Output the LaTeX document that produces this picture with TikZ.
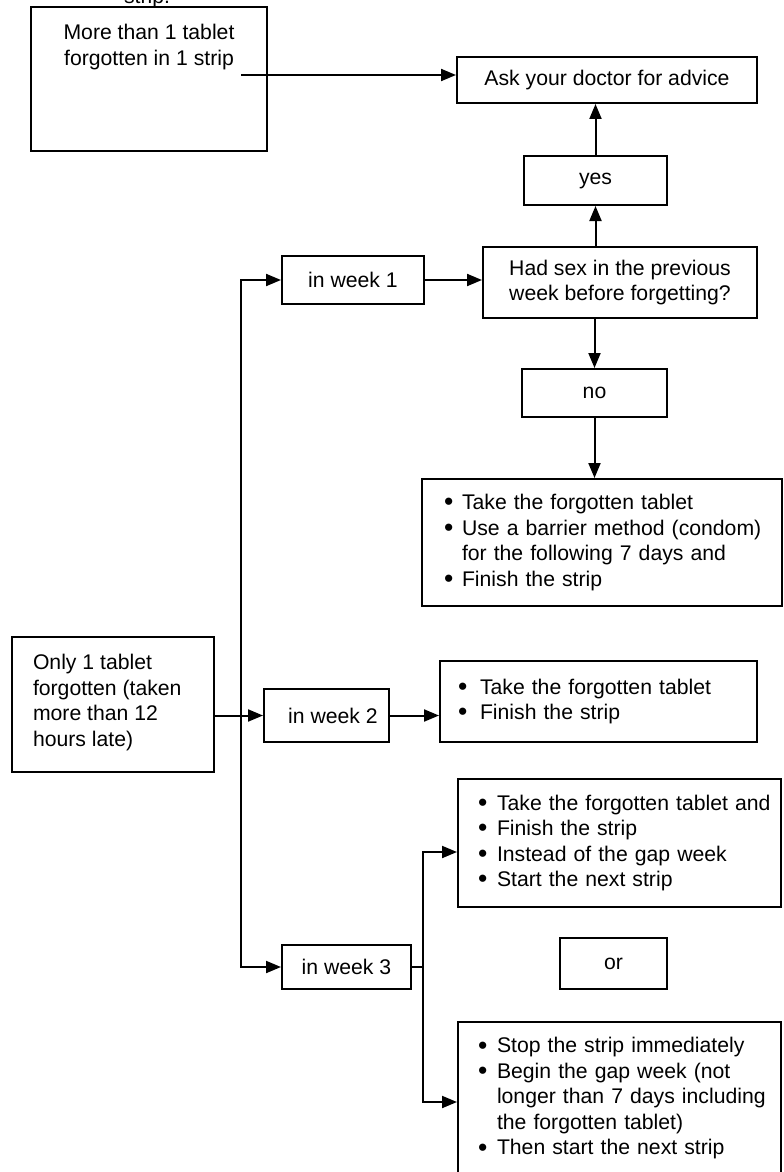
\documentclass[tikz,border=0pt]{standalone}
\usepackage{fontspec}
\setmainfont{Liberation Sans}
\usetikzlibrary{arrows.meta}
\newcommand{\fsz}{\fontsize{10.6pt}{12.75pt}\selectfont}
\newcommand{\bul}[2]{\hspace*{#1}\makebox[#2][l]{\raisebox{-0.1ex}{\scalebox{1.25}{\textbullet}}}}

\begin{document}
\begin{tikzpicture}[x=0.5pt, y=-0.5pt,
    >={Triangle[length=7.5pt,width=6pt]},
    flowbox/.style={draw, line width=1pt, inner sep=0pt, font=\fsz},
    link/.style={line width=1pt}]

    \useasboundingbox (0,0) rectangle (783,1172);
    \clip (0,0) rectangle (783,1172);

    % left over from the previous page
    \node[anchor=base, font=\fsz] (cut) at (147,4) {strip.};

    % top part
    \node[flowbox] (more) at (149,79) {\parbox[c][72pt][t]{118pt}{\centering\rule{0pt}{16.3pt}More than 1 tablet\\forgotten in 1 strip}};
    \node[flowbox, minimum width=150pt, minimum height=23pt] (ask) at (607,80) {Ask your doctor for advice};
    \node[flowbox, minimum width=71.5pt, minimum height=24.5pt] (yes) at (595.5,180.5) {yes};
    \node[flowbox, minimum width=137pt, minimum height=35.5pt, align=center] (sex) at (620,282.5) {Had sex in the previous\\week before forgetting?};
    \node[flowbox, minimum width=71pt, minimum height=24pt] (week1) at (353,280) {in week 1};
    \node[flowbox, minimum width=72.5pt, minimum height=24pt] (no) at (594.5,393) {no};
    \node[flowbox, text width=180pt, align=left, minimum height=63.5pt] (took1) at (602,542.5)
        {\bul{11pt}{9pt}Take the forgotten tablet\\
         \bul{11pt}{9pt}Use a barrier method (condom)\\
         \hspace*{20pt}for the following 7 days and\\
         \bul{11pt}{9pt}Finish the strip};

    % middle part
    \node[flowbox] (only) at (113,704.5) {\parbox[c][67.5pt][t]{101pt}{\leftskip=10.5pt\rightskip=0pt plus 1fil\rule{0pt}{16.3pt}Only 1 tablet\\forgotten (taken\\more than 12\\hours late)}};
    \node[flowbox, minimum width=62.5pt, minimum height=26.5pt] (week2) at (326.5,715.5) {\hspace*{6.5pt}in week 2};
    \node[flowbox, text width=158.5pt, align=left, minimum height=40.5pt] (took2) at (598.5,701.5)
        {\bul{9pt}{11pt}Take the forgotten tablet\\
         \bul{9pt}{11pt}Finish the strip};

    % bottom part
    \node[flowbox, minimum width=64.5pt, minimum height=22pt] (week3) at (346.5,967) {in week 3};
    \node[flowbox, text width=161.5pt, align=left, minimum height=64pt] (took3) at (619.5,843)
        {\bul{10pt}{9.5pt}Take the forgotten tablet and\\
         \bul{10pt}{9.5pt}Finish the strip\\
         \bul{10pt}{9.5pt}Instead of the gap week\\
         \bul{10pt}{9.5pt}Start the next strip};
    \node[flowbox, minimum width=53.5pt, minimum height=25.5pt] (or) at (613.5,963.5) {or};
    \node[flowbox, text width=161.5pt, align=left, minimum height=76.5pt] (stop) at (619.5,1098.5)
        {\bul{10pt}{9.5pt}Stop the strip immediately\\
         \bul{10pt}{9.5pt}Begin the gap week (not\\
         \hspace*{19.5pt}longer than 7 days including\\
         \hspace*{19.5pt}the forgotten tablet)\\
         \bul{10pt}{9.5pt}Then start the next strip};

    % connectors
    \coordinate (m1) at (241,75);
    \coordinate (trunk) at (241,715.5);
    \coordinate (fork) at (423,967);

    \draw[link,->] (m1) -- (m1 -| ask.west);
    \draw[link,->] (yes.south |- sex.north) -- (yes.south);
    \draw[link,->] (yes.north) -- (yes.north |- ask.south);
    \draw[link,->] (week1.east) -- (week1.east -| sex.west);
    \draw[link,->] (no.north |- sex.south) -- (no.north);
    \draw[link,->] (no.south) -- (no.south |- took1.north);

    \draw[link,->] (only.east |- week2.west) -- (week2.west);
    \draw[link,<->] (week1.west) -| (trunk) |- (week3.west);
    \draw[link,->] (week2.east) -- (week2.east -| took2.west);

    \draw[link] (week3.east) -- (fork);
    \draw[link,<->] ([yshift=-4.5pt]took3.west) -| (fork) |- ([yshift=-1.75pt]stop.west);

\end{tikzpicture}
\end{document}
